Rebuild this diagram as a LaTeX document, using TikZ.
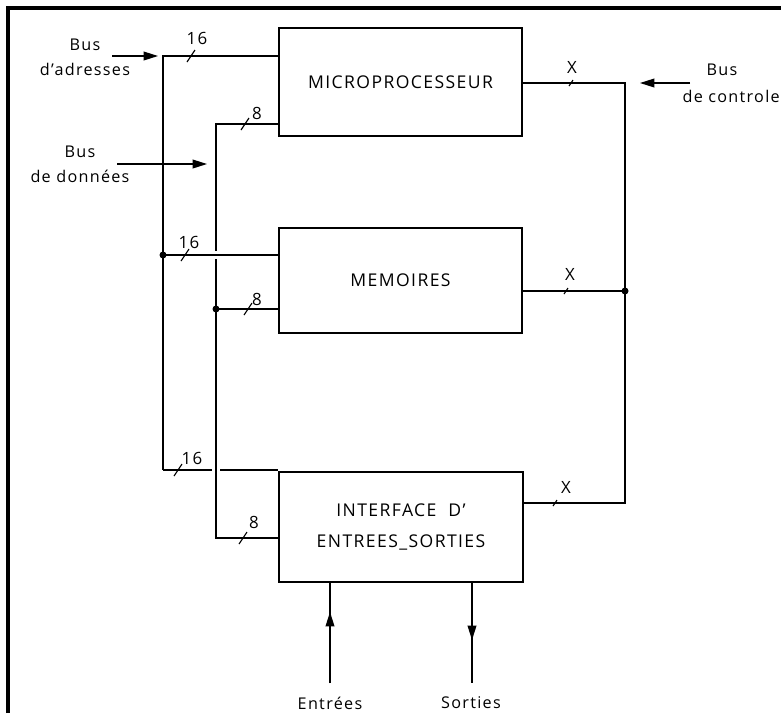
\documentclass[tikz,border=0pt]{standalone}
\usepackage{fontspec}
\setmainfont{Open Sans}[LetterSpace=8]
\usetikzlibrary{arrows.meta,positioning,calc,backgrounds}

\begin{document}
\begin{tikzpicture}[
    x=0.025cm, y=-0.025cm,
    bloc/.style={rectangle, draw, line width=1.4pt, minimum width=6.075cm, minimum height=2.7cm, inner sep=0pt, align=center, font=\fontsize{12.5}{22}\selectfont},
    bus/.style={line width=0.9pt},
    saut/.style={bus, preaction={draw=white, line width=6pt}},
    fleche/.style={line width=0.9pt, -{Triangle[length=3.6mm, width=2.2mm]}},
    etiq/.style={font=\fontsize{11.5}{18}\selectfont, align=center, inner sep=0pt},
    larg/.style={font=\fontsize{12}{14}\selectfont, inner sep=0pt},
    coupe/.pic={\draw[line width=0.8pt] (-4,6) -- (4,-6);},
    cadre/.style={line width=2.6pt},
]
    \useasboundingbox (0,0) rectangle (781,713);
    % Frame
    \draw[cadre] (8,713) -- (8,8) -- (781,8);

    % Blocks
    \node[bloc] (micro) at (400.5,82) {MICROPROCESSEUR};
    \node[bloc, minimum height=2.625cm] (mem) at (400.5,280.5) {MEMOIRES};
    \node[bloc, minimum height=2.75cm] (io) at (401,527) {INTERFACE\ \ D'\\ENTREES\_SORTIES};

    % Bus coordinates
    \coordinate (a1) at (163,56);
    \coordinate (a2) at (163,255);
    \coordinate (a3) at (163,470);
    \coordinate (d1) at (216,124);
    \coordinate (d2) at (216,309);
    \coordinate (d3) at (216,538);
    \coordinate (c1) at (625,83);
    \coordinate (c2) at (625,291);
    \coordinate (c3) at (625,503);

    \begin{scope}[on background layer]
    % Address bus, lower branch
    \draw[bus] (a3) -- (io.west |- a3);
    % Data bus
    \draw[saut] (micro.west |- d1) -- (d1) -- (d3) -- (io.west |- d3);
    % Address bus, middle branch
    \draw[saut] (a2) -- (mem.west |- a2);
    % Address bus, main path
    \draw[bus] (micro.west |- a1) -- (a1) -- (a3);
    % Data bus, middle branch
    \draw[bus] (d2) -- (mem.west |- d2);
    % Control bus
    \draw[bus] (micro.east |- c1) -- (c1) -- (c3) -- (io.east |- c3);
    \draw[bus] (c2) -- (mem.east |- c2);
    \end{scope}

    % Junctions
    \fill (a2) circle (3.5);
    \fill (d2) circle (3.5);
    \fill (c2) circle (3.5);

    % Bus widths
    \pic at (191,56) {coupe};
    \node[larg] at (197,38) {16};
    \pic at (185,255) {coupe};
    \node[larg] at (189,242) {16};
    \pic at (178,470) {coupe};
    \node[larg] at (192,458) {16};
    \pic at (245,124) {coupe};
    \node[larg] at (257,113) {8};
    \pic at (248,309) {coupe};
    \node[larg] at (257,299) {8};
    \pic at (243,538) {coupe};
    \node[larg] at (254,522) {8};
    \pic[scale=0.5] at (571,83) {coupe};
    \node[larg] at (572,67) {X};
    \pic[scale=0.5] at (566,291) {coupe};
    \node[larg] at (570,274) {X};
    \pic[scale=0.5] at (555,503) {coupe};
    \node[larg] at (566,487) {X};

    % External buses
    \coordinate (adr) at (112,56);
    \coordinate (adrfin) at (158,56);
    \coordinate (don) at (117,164);
    \coordinate (donfin) at (207,164);
    \coordinate (ctl) at (690,83);
    \coordinate (ctlfin) at (640,83);
    \draw[fleche] (adr) -- (adrfin);
    \draw[fleche] (don) -- (donfin);
    \draw[fleche] (ctl) -- (ctlfin);
    \node[etiq] (ladr) at (85,57) {Bus\\d'adresses};
    \node[etiq] (ldon) at (80,164) {Bus\\de données};
    \node[etiq] (lctl1) at (722,70) {Bus};
    \node[etiq, anchor=east] (lctl2) at (780,96) {de controle};

    % Inputs / outputs
    \coordinate (ent) at (330,683);
    \coordinate (entfl) at (330,612);
    \coordinate (sor) at (472,683);
    \coordinate (sorfl) at (472,640);
    \draw[bus] (ent) -- (io.south -| ent);
    \draw[fleche] (ent) -- (entfl);
    \draw[bus] (io.south -| sor) -- (sor);
    \draw[fleche] (io.south -| sor) -- (sorfl);
    \node[etiq] (lent) at (330,703) {Entrées};
    \node[etiq] (lsor) at (471,703) {Sorties};
\end{tikzpicture}
\end{document}
